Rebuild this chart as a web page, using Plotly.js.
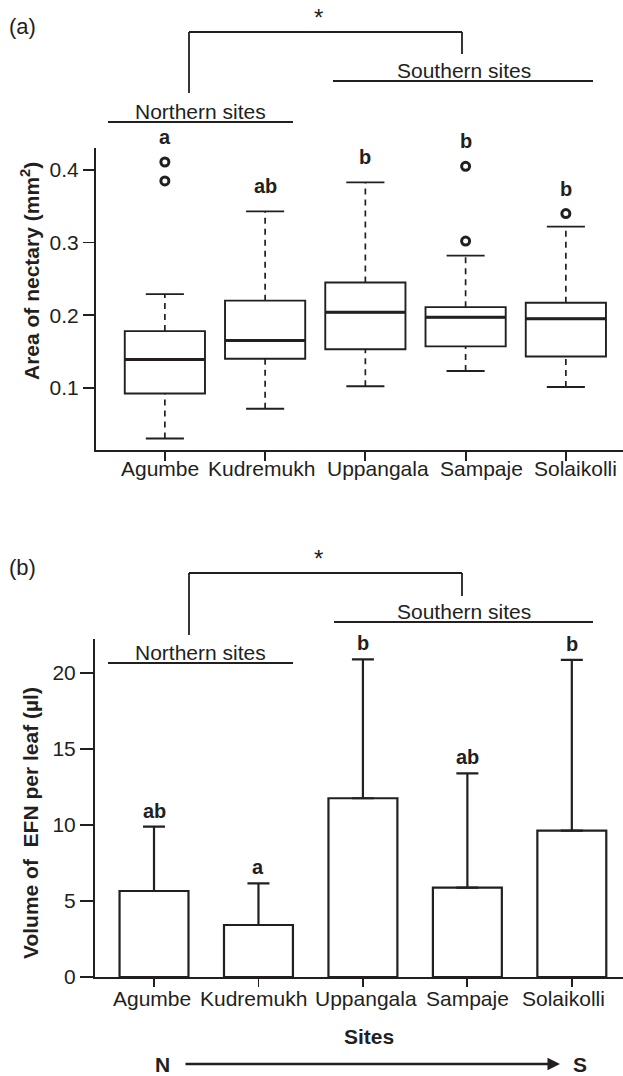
<!DOCTYPE html>
<html><head><meta charset="utf-8">
<script src="https://cdn.plot.ly/plotly-3.0.1.min.js"></script>
<style>body{margin:0;padding:0;background:#fff}</style>
</head><body><div id="chart" style="width:623px;height:1076px"></div>
<script>
// ---------- data ----------
const sites = ['Agumbe', 'Kudremukh', 'Uppangala', 'Sampaje', 'Solaikolli'];
const siteIdx = [0, 1, 2, 3, 4];
// (a) Area of nectary (mm2): box-plot summaries
const areaLower  = [0.030, 0.071, 0.102, 0.123, 0.101];
const areaQ1     = [0.092, 0.140, 0.153, 0.157, 0.143];
const areaMedian = [0.139, 0.165, 0.204, 0.197, 0.195];
const areaQ3     = [0.178, 0.220, 0.245, 0.211, 0.217];
const areaUpper  = [0.229, 0.343, 0.383, 0.282, 0.322];
const outlierSite = [0, 0, 3, 3, 4];
const outlierArea = [0.411, 0.385, 0.405, 0.302, 0.340];
const areaLetters = ['a', 'ab', 'b', 'b', 'b'];
// (b) Volume of EFN per leaf (µl): mean and top of error bar
const volumeMean = [5.66, 3.42, 11.76, 5.88, 9.63];
const volumeTop  = [9.89, 6.16, 20.90, 13.40, 20.86];
const volumeLetters = ['ab', 'a', 'b', 'ab', 'b'];

// ---------- style / layout constants ----------
const INK = '#231f20';
const FONT = 'Liberation Sans, Arial, Helvetica, sans-serif';
const W = 623, H = 1076;
const px = (x) => x / W;
const py = (y) => 1 - y / H;
// horizontal nudges (px) of the site labels, as typeset in the original figure
const labelNudgeTop = [-5, -4, 13, 16, 10];
const labelNudgeBottom = [-2, -5, 3, 0, -8];

// ---------- helpers building segments from data ----------
function segs(pairs) {
  const xs = [], ys = [];
  pairs.forEach(p => { xs.push(p[0], p[2], null); ys.push(p[1], p[3], null); });
  return {x: xs, y: ys};
}
const boxHalf = 0.4, capHalf = 0.19;
const medianSeg = segs(siteIdx.map(i => [i - boxHalf, areaMedian[i], i + boxHalf, areaMedian[i]]));
const whiskerSeg = segs([].concat(
  siteIdx.map(i => [i, areaQ3[i], i, areaUpper[i]]),
  siteIdx.map(i => [i, areaLower[i], i, areaQ1[i]])
));
const capSeg = segs([].concat(
  siteIdx.map(i => [i - capHalf, areaUpper[i], i + capHalf, areaUpper[i]]),
  siteIdx.map(i => [i - capHalf, areaLower[i], i + capHalf, areaLower[i]])
));
const areaTop = siteIdx.map(i => {
  let m = areaUpper[i];
  outlierSite.forEach((s, k) => { if (s === i) m = Math.max(m, outlierArea[k]); });
  return m;
});

const traces = [
  {type: 'box', x: siteIdx, q1: areaQ1, median: areaMedian, q3: areaQ3,
   lowerfence: areaQ1, upperfence: areaQ3, width: 0.8, whiskerwidth: 0,
   fillcolor: '#ffffff', line: {color: INK, width: 1.9}, boxpoints: false,
   hoverinfo: 'skip', xaxis: 'x', yaxis: 'y'},
  {type: 'scatter', mode: 'lines', x: medianSeg.x, y: medianSeg.y,
   line: {color: INK, width: 3}, xaxis: 'x', yaxis: 'y', hoverinfo: 'skip'},
  {type: 'scatter', mode: 'lines', x: whiskerSeg.x, y: whiskerSeg.y,
   line: {color: INK, width: 1.7, dash: '6px,5px'}, xaxis: 'x', yaxis: 'y', hoverinfo: 'skip'},
  {type: 'scatter', mode: 'lines', x: capSeg.x, y: capSeg.y,
   line: {color: INK, width: 1.9}, xaxis: 'x', yaxis: 'y', hoverinfo: 'skip'},
  {type: 'scatter', mode: 'markers', x: outlierSite, y: outlierArea,
   marker: {symbol: 'circle-open', size: 8, color: INK, line: {width: 3, color: INK}},
   xaxis: 'x', yaxis: 'y', cliponaxis: false},
  {type: 'bar', x: siteIdx, y: volumeMean, width: 0.66,
   marker: {color: '#ffffff', line: {color: INK, width: 2.2}},
   error_y: {type: 'data', symmetric: false,
             array: siteIdx.map(i => volumeTop[i] - volumeMean[i]),
             arrayminus: siteIdx.map(() => 0),
             color: INK, thickness: 2.2, width: 11},
   xaxis: 'x2', yaxis: 'y2'}
];

const axisCommon = {
  showline: true, linecolor: INK, linewidth: 2, ticks: 'outside',
  tickcolor: INK, tickwidth: 1.8, showgrid: false, zeroline: false, tickangle: 0,
  tickfont: {family: FONT, size: 21, color: INK}, fixedrange: true
};

const layout = {
  width: W, height: H,
  margin: {l: 0, r: 0, t: 0, b: 0},
  paper_bgcolor: '#ffffff', plot_bgcolor: '#ffffff',
  showlegend: false,
  font: {family: FONT, color: INK},
  xaxis: Object.assign({}, axisCommon, {
    domain: [px(96), 1], range: [-0.687, 4.57], anchor: 'y',
    tickvals: siteIdx, ticktext: sites, showticklabels: false, ticklen: 9}),
  yaxis: Object.assign({}, axisCommon, {
    domain: [py(450), py(148)], range: [0.0142, 0.4303], anchor: 'x',
    tickvals: [0.1, 0.2, 0.3, 0.4], ticktext: ['0.1', '0.2', '0.3', '0.4'], ticklen: 11}),
  xaxis2: Object.assign({}, axisCommon, {
    domain: [px(95), 1], range: [-0.565, 4.49], anchor: 'y2',
    tickvals: siteIdx, ticktext: sites, showticklabels: false, ticklen: 8}),
  yaxis2: Object.assign({}, axisCommon, {
    domain: [py(977), py(639)], range: [0, 22.24], anchor: 'x2',
    tickvals: [0, 5, 10, 15, 20], ticktext: ['0', '5', '10', '15', '20'], ticklen: 13}),
  shapes: [],
  annotations: []
};

// site labels under each axis (placed on the category positions)
siteIdx.forEach(i => {
  layout.annotations.push({xref: 'x', yref: 'y domain', x: i, y: 0, yshift: -19,
    xshift: labelNudgeTop[i], text: sites[i], showarrow: false,
    xanchor: 'center', yanchor: 'middle',
    font: {family: FONT, size: 21, color: INK}});
  layout.annotations.push({xref: 'x2', yref: 'y2 domain', x: i, y: 0, yshift: -21,
    xshift: labelNudgeBottom[i], text: sites[i], showarrow: false,
    xanchor: 'center', yanchor: 'middle',
    font: {family: FONT, size: 21, color: INK}});
});

// significance letters anchored on the data (top of whisker/outlier, top of error bar)
siteIdx.forEach(i => {
  layout.annotations.push({xref: 'x', yref: 'y', x: i, y: areaTop[i], yshift: 25,
    text: areaLetters[i], showarrow: false, xanchor: 'center', yanchor: 'middle',
    font: {family: FONT, size: 20, color: INK, weight: 'bold'}});
  layout.annotations.push({xref: 'x2', yref: 'y2', x: i, y: volumeTop[i], yshift: 16,
    text: volumeLetters[i], showarrow: false, xanchor: 'center', yanchor: 'middle',
    font: {family: FONT, size: 20, color: INK, weight: 'bold'}});
});

function line(x0, y0, x1, y1, w) {
  layout.shapes.push({type: 'line', xref: 'paper', yref: 'paper',
    x0: px(x0), y0: py(y0), x1: px(x1), y1: py(y1),
    line: {color: INK, width: w || 1.8}});
}
function label(x, y, text, size, bold, extra) {
  layout.annotations.push(Object.assign({xref: 'paper', yref: 'paper',
    x: px(x), y: py(y), text: text, showarrow: false,
    xanchor: 'center', yanchor: 'middle',
    font: {family: FONT, size: size, color: INK, weight: bold ? 'bold' : 'normal'}}, extra || {}));
}

// panel (a) header
label(22, 27, '(a)', 22, false);
label(318, 17, '*', 24, false);
line(189, 32, 462, 32); line(189, 32, 189, 93); line(462, 32, 462, 54);
label(200, 111, 'Northern sites', 21, false);
line(108, 122, 293, 122);
label(464, 70, 'Southern sites', 21, false);
line(333, 81, 593, 81);
label(30, 271, 'Area of nectary (mm<sup>2</sup>)', 21, true, {textangle: -90});

// panel (b) header
label(22, 567, '(b)', 22, false);
label(318, 558, '*', 24, false);
line(189, 573, 462, 573); line(189, 573, 189, 635); line(462, 573, 462, 596);
label(200, 652, 'Northern sites', 21, false);
line(108, 663, 293, 663);
label(464, 611, 'Southern sites', 21, false);
line(334, 622, 593, 622);
label(30, 823, 'Volume of\u00a0 EFN per leaf (µl)', 21, true, {textangle: -90});

// Sites / N -> S
label(369, 1036, 'Sites', 21, true);
label(162, 1064, 'N', 21, true);
label(580, 1064, 'S', 21, true);
layout.annotations.push({xref: 'paper', yref: 'paper', x: px(560), y: py(1064),
  ax: -(560 - 184), ay: 0, text: '', showarrow: true,
  arrowhead: 2, arrowsize: 1, arrowwidth: 2.5, arrowcolor: INK});

Plotly.newPlot('chart', traces, layout, {displayModeBar: false, staticPlot: true});
</script></body></html>
